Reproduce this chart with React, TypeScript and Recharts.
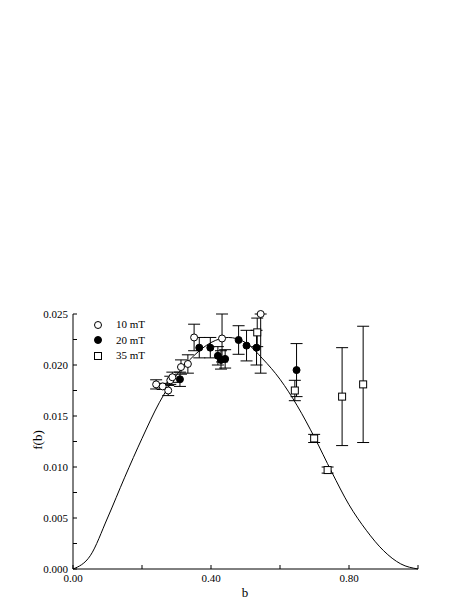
import { ComposedChart, Line, Scatter, ErrorBar, XAxis, YAxis, Legend, Label } from 'recharts'

// fitted curve
const curveB = [0, 0.05, 0.1, 0.15, 0.2, 0.25, 0.3, 0.35, 0.4, 0.45, 0.5, 0.55, 0.6, 0.65, 0.7, 0.75, 0.8, 0.85, 0.9, 0.95, 1]
const curveF = [0, 0.0013, 0.005, 0.009, 0.0128, 0.0163, 0.019, 0.0209, 0.0222, 0.0227, 0.0222, 0.0206, 0.0186, 0.016, 0.0129, 0.0095, 0.0063, 0.0038, 0.0018, 0.0005, 0]

// 10 mT (open circles); [below, above] errors
const b10 = [0.241, 0.26, 0.276, 0.282, 0.288, 0.313, 0.333, 0.351, 0.432, 0.544]
const f10 = [0.0181, 0.0179, 0.0175, 0.0185, 0.0188, 0.0198, 0.0201, 0.0227, 0.0226, 0.025]
const e10 = [[0.00045, 0.00045], [0.0003, 0.0003], [0.0005, 0.0005], [0.0004, 0.0004], [0.0005, 0.0005], [0.0007, 0.0007], [0.0009, 0.0009], [0.0013, 0.0013], [0.0023, 0.0024], [0.0058, 0]]

// 20 mT (filled circles)
const b20 = [0.31, 0.366, 0.398, 0.42, 0.429, 0.441, 0.48, 0.503, 0.532, 0.648]
const f20 = [0.0186, 0.0217, 0.0217, 0.0209, 0.0205, 0.0206, 0.02245, 0.0219, 0.0217, 0.0195]
const e20 = [0.0007, 0.001, 0.001, 0.0009, 0.0009, 0.0009, 0.0014, 0.0015, 0.0017, 0.0026]

// 35 mT (open squares)
const b35 = [0.534, 0.643, 0.699, 0.738, 0.78, 0.841]
const f35 = [0.0232, 0.0175, 0.0128, 0.0097, 0.0169, 0.0181]
const e35 = [0.0014, 0.001, 0.0004, 0.0003, 0.0048, 0.0057]

const xTicks = [0, 0.2, 0.4, 0.6, 0.8, 1]
const yTicks = [0, 0.0025, 0.005, 0.0075, 0.01, 0.0125, 0.015, 0.0175, 0.02, 0.0225, 0.025]

const curve = curveB.map((b, i) => ({ b, f: curveF[i] }))
const s10 = b10.map((b, i) => ({ b, f: f10[i], e: e10[i] }))
const s20 = b20.map((b, i) => ({ b, f: f20[i], e: e20[i] }))
const s35 = b35.map((b, i) => ({ b, f: f35[i], e: e35[i] }))

const FONT = '"Liberation Serif", "DejaVu Serif", serif'
const TICK = 4

const BottomTick = (props: any) => {
  const { x, y, payload } = props
  const v = payload.value
  const label = Math.round(v * 10) % 4 === 0
  return (
    <g>
      <line x1={x} y1={y} x2={x} y2={y - TICK} stroke="#000" />
      {label && (
        <text x={x} y={y + 13} textAnchor="middle" fontSize={11} fontFamily={FONT} fill="#000">
          {v.toFixed(2)}
        </text>
      )}
    </g>
  )
}

const TopTick = (props: any) => {
  const { x, y } = props
  return <line x1={x} y1={y} x2={x} y2={y + TICK} stroke="#000" />
}

const LeftTick = (props: any) => {
  const { x, y, payload } = props
  const v = payload.value
  const label = Math.round(v * 10000) % 50 === 0
  return (
    <g>
      <line x1={x} y1={y} x2={x + TICK} y2={y} stroke="#000" />
      {label && (
        <text x={x - 5} y={y + 4} textAnchor="end" fontSize={11} fontFamily={FONT} fill="#000">
          {v.toFixed(3)}
        </text>
      )}
    </g>
  )
}

const RightTick = (props: any) => {
  const { x, y } = props
  return <line x1={x} y1={y} x2={x - TICK} y2={y} stroke="#000" />
}

const OpenCircle = (props: any) => <circle cx={props.cx} cy={props.cy} r={3.5} fill="#fff" stroke="#000" />
const FilledCircle = (props: any) => <circle cx={props.cx} cy={props.cy} r={3.5} fill="#000" stroke="#000" />
const OpenSquare = (props: any) => (
  <rect x={props.cx - 3.5} y={props.cy - 3.5} width={7} height={7} fill="#fff" stroke="#000" />
)

const legendRows = [
  { name: '10 mT', kind: 'open' },
  { name: '20 mT', kind: 'filled' },
  { name: '35 mT', kind: 'square' },
]

const LegendBox = () => (
  <div style={{ fontFamily: FONT, fontSize: 11, color: '#000', lineHeight: '15.5px' }}>
    {legendRows.map((r) => (
      <div key={r.name} style={{ display: 'flex', alignItems: 'center', height: 15.5 }}>
        <svg width={10} height={10} style={{ marginRight: 13 }}>
          {r.kind === 'square' ? (
            <rect x={1.5} y={1.5} width={7} height={7} fill="#fff" stroke="#000" />
          ) : (
            <circle cx={5} cy={5} r={3.5} fill={r.kind === 'filled' ? '#000' : '#fff'} stroke="#000" />
          )}
        </svg>
        <span>{r.name}</span>
      </div>
    ))}
  </div>
)

export default function App() {
  return (
    <div style={{ position: 'absolute', left: 0, top: 0, background: '#fff' }}>
      <ComposedChart width={463} height={599} margin={{ top: 314, right: 45, bottom: 0, left: 0 }}>
        <XAxis
          xAxisId={0}
          dataKey="b"
          type="number"
          domain={[0, 1]}
          ticks={xTicks}
          interval={0}
          tickSize={0}
          tickMargin={0}
          tick={<BottomTick />}
          axisLine={{ stroke: '#000' }}
          tickLine={false}
          height={30}
        >
          <Label
            content={() => (
              <text x={245} y={597} textAnchor="middle" fontSize={13} fontFamily={FONT} fill="#000">
                b
              </text>
            )}
          />
        </XAxis>
        <XAxis
          xAxisId="top"
          orientation="top"
          type="number"
          domain={[0, 1]}
          allowDataOverflow
          ticks={xTicks}
          interval={0}
          tickSize={0}
          tickMargin={0}
          tick={<TopTick />}
          axisLine={{ stroke: '#000' }}
          tickLine={false}
          height={0}
        />
        <YAxis
          yAxisId={0}
          dataKey="f"
          type="number"
          domain={[0, 0.025]}
          ticks={yTicks}
          interval={0}
          tickSize={0}
          tickMargin={0}
          tick={<LeftTick />}
          axisLine={{ stroke: '#000' }}
          tickLine={false}
          width={73}
        >
          <Label
            content={() => (
              <text
                x={42}
                y={440}
                transform="rotate(-90 42 440)"
                textAnchor="middle"
                fontSize={13}
                fontFamily={FONT}
                fill="#000"
              >
                f(b)
              </text>
            )}
          />
        </YAxis>
        <YAxis
          yAxisId="right"
          orientation="right"
          type="number"
          domain={[0, 0.025]}
          allowDataOverflow
          ticks={yTicks}
          interval={0}
          tickSize={0}
          tickMargin={0}
          tick={<RightTick />}
          axisLine={{ stroke: '#000' }}
          tickLine={false}
          width={0}
        />
        <Legend
          layout="vertical"
          align="center"
          verticalAlign="middle"
          wrapperStyle={{ left: 93, top: 317, width: 80 }}
          content={<LegendBox />}
        />
        <Line
          data={curve}
          dataKey="f"
          type="monotone"
          stroke="#000"
          strokeWidth={1}
          dot={false}
          activeDot={false}
          isAnimationActive={false}
        />
        <Scatter data={s10} dataKey="f" shape={<OpenCircle />} isAnimationActive={false}>
          <ErrorBar dataKey="e" direction="y" width={6} stroke="#000" strokeWidth={1} />
        </Scatter>
        <Scatter data={s20} dataKey="f" shape={<FilledCircle />} isAnimationActive={false}>
          <ErrorBar dataKey="e" direction="y" width={6} stroke="#000" strokeWidth={1} />
        </Scatter>
        <Scatter data={s35} dataKey="f" shape={<OpenSquare />} isAnimationActive={false}>
          <ErrorBar dataKey="e" direction="y" width={6} stroke="#000" strokeWidth={1} />
        </Scatter>
      </ComposedChart>
    </div>
  )
}
